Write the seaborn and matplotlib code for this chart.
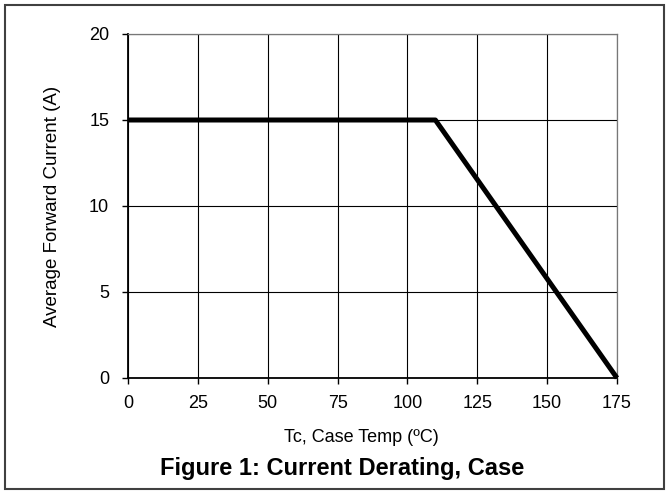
import matplotlib
matplotlib.use("Agg")
import matplotlib.pyplot as plt
from matplotlib.patches import Rectangle
import seaborn as sns
import pandas as pd

# derating curve (case temp in C, current in A)
case_temp = [0, 110, 175]
fwd_current = [15, 15, 0]
x_ticks = [0, 25, 50, 75, 100, 125, 150, 175]
y_ticks = [0, 5, 10, 15, 20]

sns.set_style("white", {"text.color": "black", "axes.labelcolor": "black",
                        "xtick.color": "black", "ytick.color": "black"})
plt.rcParams["font.family"] = ["Liberation Sans", "DejaVu Sans"]

fig = plt.figure(figsize=(6.69, 4.92), dpi=100)
ax = fig.add_axes([128 / 669, 1 - 378 / 492, 489 / 669, 344 / 492])

df = pd.DataFrame({"temp": case_temp, "current": fwd_current})
sns.lineplot(data=df, x="temp", y="current", color="black", linewidth=3.6,
             ax=ax, clip_on=False, zorder=5)
ax.lines[0].set_solid_capstyle("butt")

ax.set_xlim(0, 175)
ax.set_ylim(0, 20)
ax.set_xticks(x_ticks)
ax.set_yticks(y_ticks)
ax.grid(True, color="black", linewidth=0.8)
for side in ["top", "right"]:
    ax.spines[side].set_color("#777777")
    ax.spines[side].set_linewidth(0.9)
for side in ["left", "bottom"]:
    ax.spines[side].set_color("black")
    ax.spines[side].set_linewidth(1.3)
ax.tick_params(axis="both", direction="out", length=4.5, width=1, color="black",
               labelcolor="black", labelsize=13, bottom=True, left=True)
ax.tick_params(axis="x", pad=8)
ax.tick_params(axis="y", pad=9)

ax.set_xlabel("Tc, Case Temp (ºC)", fontsize=13, color="black")
ax.xaxis.set_label_coords(0.478, -0.148)
ax.set_ylabel("Average Forward Current (A)", fontsize=13.5, color="black")
ax.yaxis.set_label_coords(-0.136, 0.5)

fig.text(342 / 669, 1 - 469 / 492, "Figure 1: Current Derating, Case",
         ha="center", va="center", fontsize=17, fontweight="bold", color="black")

fig.patches.append(Rectangle((5 / 669, 3 / 492), 659 / 669, 484 / 492,
                             transform=fig.transFigure, fill=False,
                             edgecolor="#404040", linewidth=1.5))

plt.savefig("out.png", dpi=100)
plt.close()
